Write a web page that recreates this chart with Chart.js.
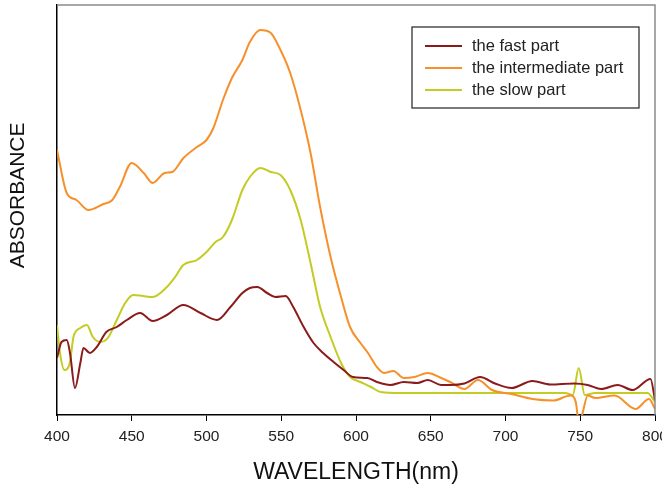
<!DOCTYPE html>
<html>
<head>
<meta charset="utf-8">
<script src="https://cdn.jsdelivr.net/npm/chart.js@4"></script>
<style>
  html, body { margin: 0; padding: 0; background: #fff; }
  #wrap { width: 662px; height: 486px; }
</style>
</head>
<body>
<div id="wrap"><canvas id="absChart"></canvas></div>
<script>
// values (arbitrary absorbance units)
const wlFast = [400, 403, 406.5, 408.7, 412, 415.6, 417.7, 422, 426.6, 433, 440, 446.7, 455.6, 464, 473.5, 484.5, 496, 507, 516, 524, 529, 534, 540.5, 546, 553, 558, 565, 571.6, 578, 585, 591.7, 598, 607.6, 614, 623, 632, 641, 648, 657, 663, 672.5, 683, 693, 704, 718, 730, 746, 755, 764, 775, 785, 797, 800];
const absFast = [0.114, 0.146, 0.150, 0.124, 0.054, 0.104, 0.134, 0.124, 0.136, 0.166, 0.176, 0.190, 0.204, 0.188, 0.200, 0.220, 0.204, 0.190, 0.216, 0.244, 0.254, 0.256, 0.244, 0.236, 0.238, 0.216, 0.176, 0.144, 0.124, 0.106, 0.090, 0.076, 0.074, 0.066, 0.060, 0.066, 0.064, 0.070, 0.060, 0.060, 0.063, 0.076, 0.063, 0.054, 0.068, 0.061, 0.063, 0.060, 0.052, 0.060, 0.050, 0.072, 0.030];

const wlInter = [400, 406.5, 413, 421, 431, 437, 442, 450, 458, 464, 472, 477, 484.6, 493.6, 500, 504.6, 511, 517, 524, 529, 536, 543, 549.5, 556, 563, 569.6, 576, 583, 590, 596, 603, 608, 614, 618.6, 625, 632, 639, 648, 657, 663, 672.5, 681.6, 691, 704, 718, 732, 743.5, 747, 749, 751, 755, 760, 773, 787, 796, 800];
const absInter = [0.530, 0.444, 0.430, 0.410, 0.422, 0.430, 0.456, 0.504, 0.484, 0.464, 0.484, 0.486, 0.514, 0.536, 0.550, 0.574, 0.630, 0.674, 0.710, 0.746, 0.770, 0.764, 0.730, 0.684, 0.610, 0.524, 0.416, 0.316, 0.236, 0.176, 0.144, 0.124, 0.096, 0.084, 0.088, 0.074, 0.076, 0.084, 0.074, 0.066, 0.052, 0.070, 0.050, 0.042, 0.032, 0.029, 0.039, 0.026, -0.012, -0.002, 0.039, 0.034, 0.039, 0.012, 0.032, 0.012];

const wlSlow = [400, 402, 405, 408.7, 411, 415.6, 420, 424, 429, 434, 440, 445.6, 451, 457.6, 464, 473.5, 479, 484.5, 493.6, 500, 506, 511, 517, 524, 529, 536, 543, 549.5, 556, 563, 569.6, 576, 583, 590, 596, 603, 610, 616.5, 630, 660, 700, 740, 745, 749, 753, 760, 780, 795, 800];
const absSlow = [0.180, 0.124, 0.090, 0.106, 0.156, 0.174, 0.180, 0.156, 0.146, 0.154, 0.190, 0.224, 0.240, 0.238, 0.236, 0.256, 0.276, 0.300, 0.310, 0.326, 0.346, 0.356, 0.390, 0.450, 0.476, 0.494, 0.486, 0.480, 0.450, 0.390, 0.304, 0.216, 0.156, 0.104, 0.076, 0.066, 0.056, 0.046, 0.044, 0.044, 0.044, 0.044, 0.040, 0.094, 0.040, 0.044, 0.044, 0.044, 0.026];

const xTicks = [400, 450, 500, 550, 600, 650, 700, 750, 800];

const toPoints = (xs, ys) => xs.map((x, i) => ({ x: x, y: ys[i] }));
const FONT = '"Liberation Sans", Arial, sans-serif';

// gray frame on top / right, like the original plot box
const frame = {
  id: 'frame',
  afterDatasetsDraw(chart) {
    const { ctx, chartArea: a } = chart;
    ctx.save();
    ctx.strokeStyle = '#8a8a8a';
    ctx.lineWidth = 1.5;
    ctx.beginPath();
    ctx.moveTo(a.left, a.top);
    ctx.lineTo(a.right, a.top);
    ctx.lineTo(a.right, a.bottom);
    ctx.stroke();
    ctx.restore();
  }
};

// legend box drawn inside the plot, upper right
const boxLegend = {
  id: 'boxLegend',
  afterDraw(chart) {
    const { ctx, chartArea: a } = chart;
    const x0 = a.right - 243, y0 = a.top + 22, w = 227, h = 81;
    ctx.save();
    ctx.fillStyle = '#fff';
    ctx.fillRect(x0, y0, w, h);
    ctx.strokeStyle = '#222';
    ctx.lineWidth = 1.2;
    ctx.strokeRect(x0, y0, w, h);
    ctx.font = '16.5px ' + FONT;
    ctx.textBaseline = 'middle';
    chart.data.datasets.forEach((ds, i) => {
      const y = y0 + 19 + i * 22;
      ctx.strokeStyle = ds.borderColor;
      ctx.lineWidth = 2;
      ctx.beginPath();
      ctx.moveTo(x0 + 13, y);
      ctx.lineTo(x0 + 50, y);
      ctx.stroke();
      ctx.fillStyle = '#222';
      ctx.fillText(ds.label, x0 + 60, y);
    });
    ctx.restore();
  }
};

new Chart(document.getElementById('absChart'), {
  type: 'line',
  data: {
    datasets: [{
      label: 'the fast part',
      data: toPoints(wlFast, absFast),
      borderColor: '#8b1a1a',
      borderWidth: 2,
      pointRadius: 0,
      cubicInterpolationMode: 'monotone'
    },
    {
      label: 'the intermediate part',
      data: toPoints(wlInter, absInter),
      borderColor: '#f7902a',
      borderWidth: 2,
      pointRadius: 0,
      cubicInterpolationMode: 'monotone'
    },
    {
      label: 'the slow part',
      data: toPoints(wlSlow, absSlow),
      borderColor: '#c2cc22',
      borderWidth: 2,
      pointRadius: 0,
      cubicInterpolationMode: 'monotone'
    }]
  },
  options: {
    responsive: true,
    maintainAspectRatio: false,
    animation: false,
    layout: { padding: { left: 0, right: 7, top: 5, bottom: 0 } },
    plugins: {
      legend: { display: false },
      tooltip: { enabled: false }
    },
    scales: {
      x: {
        type: 'linear',
        min: 400,
        max: 800,
        afterBuildTicks: (scale) => { scale.ticks = xTicks.map(v => ({ value: v })); },
        afterFit: (scale) => {
          scale.height = 71;
          // let the last label run off the edge as in the original
          scale.paddingLeft = 0;
          scale.paddingRight = 0;
        },
        grid: { display: true, drawOnChartArea: false, drawTicks: true, tickLength: 6, color: '#000' },
        border: { display: true, color: '#000', width: 1.5 },
        ticks: {
          color: '#222',
          padding: 6,
          maxRotation: 0,
          font: { family: FONT, size: 15.5 }
        },
        title: {
          display: true,
          text: 'WAVELENGTH(nm)',
          color: '#111',
          padding: { top: 4, bottom: 0 },
          font: { family: FONT, size: 23 }
        }
      },
      y: {
        min: 0,
        max: 0.82,
        afterFit: (scale) => { scale.width = 57; },
        grid: { display: false },
        border: { display: true, color: '#000', width: 1.5 },
        ticks: { display: false },
        title: {
          display: true,
          text: '     ABSORBANCE',
          color: '#111',
          padding: { top: 6 },
          font: { family: FONT, size: 21 }
        }
      }
    }
  },
  plugins: [frame, boxLegend]
});
</script>
</body>
</html>
